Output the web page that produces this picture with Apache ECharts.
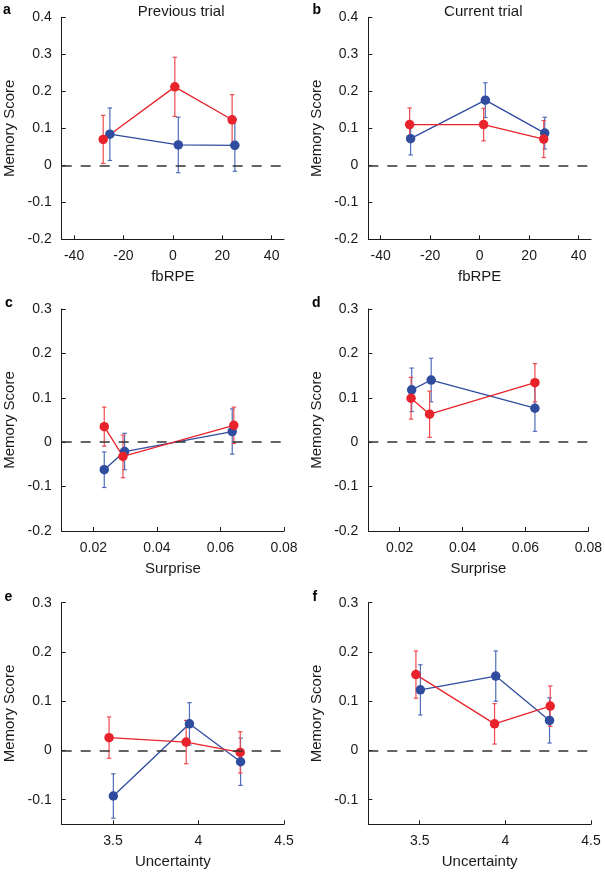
<!DOCTYPE html>
<html>
<head>
<meta charset="utf-8">
<script src="https://cdn.jsdelivr.net/npm/echarts@6/dist/echarts.min.js"></script>
<style>html,body{margin:0;padding:0;background:#fff}#c{width:605px;height:872px}</style>
</head>
<body>
<div id="c"></div>
<script>
// ---- Data ----
const aRedX = [-28.2, 0.8, 24.0];
const aRedY = [0.070, 0.212, 0.123];
const aRedErr = [0.065, 0.080, 0.068];
const aBlueX = [-25.5, 2.2, 25.1];
const aBlueY = [0.084, 0.055, 0.054];
const aBlueErr = [0.071, 0.075, 0.070];

const bRedX = [-28.3, 1.6, 25.9];
const bRedY = [0.110, 0.110, 0.071];
const bRedErr = [0.045, 0.044, 0.050];
const bBlueX = [-27.9, 2.3, 26.3];
const bBlueY = [0.072, 0.176, 0.087];
const bBlueErr = [0.044, 0.047, 0.043];

const cRedX = [0.0234, 0.0293, 0.0642];
const cRedY = [0.035, -0.032, 0.038];
const cRedErr = [0.044, 0.048, 0.041];
const cBlueX = [0.0234, 0.0298, 0.0637];
const cBlueY = [-0.062, -0.021, 0.024];
const cBlueErr = [0.040, 0.041, 0.051];

const dRedX = [0.0236, 0.0295, 0.0630];
const dRedY = [0.099, 0.063, 0.134];
const dRedErr = [0.047, 0.052, 0.043];
const dBlueX = [0.0238, 0.0300, 0.0630];
const dBlueY = [0.118, 0.140, 0.0765];
const dBlueErr = [0.049, 0.049, 0.052];

const eRedX = [3.477, 3.928, 4.244];
const eRedY = [0.026, 0.017, -0.004];
const eRedErr = [0.042, 0.044, 0.042];
const eBlueX = [3.502, 3.947, 4.246];
const eBlueY = [-0.0925, 0.054, -0.023];
const eBlueErr = [0.045, 0.043, 0.048];

const fRedX = [3.478, 3.937, 4.262];
const fRedY = [0.154, 0.054, 0.090];
const fRedErr = [0.048, 0.041, 0.041];
const fBlueX = [3.504, 3.944, 4.258];
const fBlueY = [0.123, 0.151, 0.061];
const fBlueErr = [0.051, 0.051, 0.046];

// Tick labels
const fbTicks = [-40, -20, 0, 20, 40];
const surpriseTicks = [0.02, 0.04, 0.06, 0.08];
const uncTicks = [3.5, 4, 4.5];
const yTicksTop = [-0.2, -0.1, 0, 0.1, 0.2, 0.3, 0.4];
const yTicksMid = [-0.2, -0.1, 0, 0.1, 0.2, 0.3];
const yTicksBot = [-0.1, 0, 0.1, 0.2, 0.3];

const panelLetters = ['a', 'b', 'c', 'd', 'e', 'f'];
const colTitles = ['Previous trial', 'Current trial'];
const xNames = ['fbRPE', 'fbRPE', 'Surprise', 'Surprise', 'Uncertainty', 'Uncertainty'];
const yName = 'Memory Score';

// ---- Layout / style ----
const FONT = '"Liberation Sans", Arial, Helvetica, sans-serif';
const RED = '#e8232b', RED_EB = '#ee4a50';
const BLUE = '#2f4c9f', BLUE_EB = '#4f6db8';
const INK = '#1a1a1a';

const grids = [
  {left: 61.7, top: 17.3, width: 222.3, height: 222},
  {left: 368.3, top: 17.3, width: 222.7, height: 222},
  {left: 61.7, top: 309, width: 222.3, height: 222},
  {left: 368.3, top: 309, width: 222.7, height: 222},
  {left: 61.7, top: 602.7, width: 222.3, height: 221.6},
  {left: 368.3, top: 602.7, width: 222.7, height: 221.6}
];
const xRanges = [[-45, 45], [-45, 45], [0.01, 0.08], [0.01, 0.08], [3.2, 4.5], [3.2, 4.5]];
const xTickSets = [fbTicks, fbTicks, surpriseTicks, surpriseTicks, uncTicks, uncTicks];
const yRanges = [[-0.2, 0.4], [-0.2, 0.4], [-0.2, 0.3], [-0.2, 0.3], [-0.15, 0.3], [-0.15, 0.3]];
const yTickSets = [yTicksTop, yTicksTop, yTicksMid, yTicksMid, yTicksBot, yTicksBot];

const panels = [
  [aRedX, aRedY, aRedErr, aBlueX, aBlueY, aBlueErr],
  [bRedX, bRedY, bRedErr, bBlueX, bBlueY, bBlueErr],
  [cRedX, cRedY, cRedErr, cBlueX, cBlueY, cBlueErr],
  [dRedX, dRedY, dRedErr, dBlueX, dBlueY, dBlueErr],
  [eRedX, eRedY, eRedErr, eBlueX, eBlueY, eBlueErr],
  [fRedX, fRedY, fRedErr, fBlueX, fBlueY, fBlueErr]
];

function fmt(v) { return String(+v.toFixed(4)); }

const xAxis = [], yAxis = [], series = [];
grids.forEach((g, i) => {
  xAxis.push({
    type: 'value', gridIndex: i, min: xRanges[i][0], max: xRanges[i][1],
    axisLine: {show: true, onZero: false, lineStyle: {color: INK, width: 1}},
    axisTick: {show: true, inside: true, length: 4, customValues: xTickSets[i], lineStyle: {color: INK, width: 1}},
    axisLabel: {customValues: xTickSets[i], margin: 10, fontSize: 14, color: INK, fontFamily: FONT, formatter: fmt},
    splitLine: {show: false},
    name: xNames[i], nameLocation: 'middle', nameGap: 30,
    nameTextStyle: {fontSize: 15, color: INK, fontFamily: FONT}
  });
  yAxis.push({
    type: 'value', gridIndex: i, min: yRanges[i][0], max: yRanges[i][1],
    axisLine: {show: true, onZero: false, lineStyle: {color: INK, width: 1}},
    axisTick: {show: true, inside: true, length: 4, customValues: yTickSets[i], lineStyle: {color: INK, width: 1}},
    axisLabel: {customValues: yTickSets[i], margin: 10, fontSize: 14, color: INK, fontFamily: FONT, formatter: fmt},
    splitLine: {show: false},
    name: yName, nameLocation: 'middle', nameGap: 44, nameRotate: 90,
    nameTextStyle: {fontSize: 15, color: INK, fontFamily: FONT}
  });

  const [rx, ry, re, bx, by, be] = panels[i];
  const errSeries = (xs, ys, es, color, withZero) => {
    const s = {
      type: 'custom', xAxisIndex: i, yAxisIndex: i, clip: false,
      data: xs.map((x, k) => [x, ys[k], es[k]]),
      encode: {x: 0, y: 1},
      renderItem: (params, api) => {
        const x = api.value(0), y = api.value(1), e = api.value(2);
        const t = api.coord([x, y + e]);
        const b = api.coord([x, y - e]);
        const cw = 2.2;
        const st = {stroke: color, lineWidth: 1.2};
        return {type: 'group', children: [
          {type: 'line', shape: {x1: t[0], y1: t[1], x2: b[0], y2: b[1]}, style: st},
          {type: 'line', shape: {x1: t[0] - cw, y1: t[1], x2: t[0] + cw, y2: t[1]}, style: st},
          {type: 'line', shape: {x1: b[0] - cw, y1: b[1], x2: b[0] + cw, y2: b[1]}, style: st}
        ]};
      },
      silent: true, z: 2
    };
    return s;
  };
  const lineSeries = (xs, ys, color) => ({
    type: 'line', xAxisIndex: i, yAxisIndex: i,
    data: xs.map((x, k) => [x, ys[k]]),
    symbol: 'circle', symbolSize: 9.5, showSymbol: true,
    lineStyle: {color: color, width: 1.3},
    itemStyle: {color: color, borderWidth: 0},
    silent: true, animation: false, z: 3
  });
  series.push({
    type: 'line', xAxisIndex: i, yAxisIndex: i, data: [], silent: true, z: 1,
    markLine: {
      silent: true, symbol: 'none', animation: false,
      label: {show: false},
      lineStyle: {type: [10, 9], color: '#333', width: 1.6},
      data: [{yAxis: 0}]
    }
  });
  series.push(errSeries(bx, by, be, BLUE_EB));
  series.push(lineSeries(bx, by, BLUE));
  series.push(errSeries(rx, ry, re, RED_EB));
  series.push(lineSeries(rx, ry, RED));
});

const letterPos = [[3, 16], [312.5, 16], [5, 308.3], [312, 308.3], [4.5, 602.3], [312.5, 602.7]];
const graphic = panelLetters.map((L, i) => ({
  type: 'text', left: letterPos[i][0], top: letterPos[i][1] - 12.5, silent: true,
  style: {text: L, font: 'bold 14px ' + FONT, fill: '#000'}
}));
graphic.push({type: 'text', x: 181.2, y: 11.5, silent: true,
  style: {text: colTitles[0], font: '15px ' + FONT, fill: INK, textAlign: 'center', textVerticalAlign: 'middle'}});
graphic.push({type: 'text', x: 483.3, y: 11.5, silent: true,
  style: {text: colTitles[1], font: '15px ' + FONT, fill: INK, textAlign: 'center', textVerticalAlign: 'middle'}});

const chart = echarts.init(document.getElementById('c'), null, {renderer: 'canvas'});
chart.setOption({
  animation: false,
  backgroundColor: '#fff',
  grid: grids,
  xAxis: xAxis,
  yAxis: yAxis,
  series: series,
  graphic: graphic
});
</script>
</body>
</html>
